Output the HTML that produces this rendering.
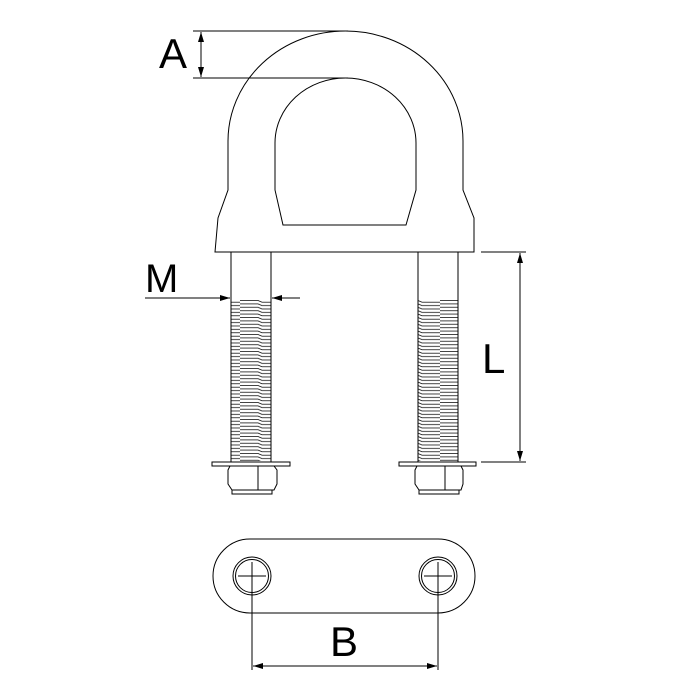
<!DOCTYPE html>
<html><head><style>body{margin:0;background:#fff}svg{display:block}</style></head>
<body>
<svg width="691" height="691" viewBox="0 0 691 691" xmlns="http://www.w3.org/2000/svg">
<defs>
<pattern id="th" width="40" height="3.4" patternUnits="userSpaceOnUse" y="300">
<path d="M0 0.5 H18 L22 2.2 H40" stroke="#000" stroke-width="0.8" fill="none"/>
</pattern>
<marker id="ar" markerWidth="10" markerHeight="6" refX="10" refY="3" orient="auto" markerUnits="userSpaceOnUse"><path d="M0 0 L10 3 L0 6Z" fill="#000"/></marker>
</defs>
<g fill="none" stroke="#000" stroke-width="1">
<path d="M215 252 L218 218 L228 190 L228 141 A117.5 110 0 0 1 463 141 L463 190 L474 218 L474 252 Z" fill="#fff"/>
<path d="M283 225 L275 190 L275 143 A70.5 65 0 0 1 416 143 L416 190 L406 225 Z"/>
<rect x="231" y="252" width="40" height="210" fill="#fff"/>
<rect x="418" y="252" width="40" height="210" fill="#fff"/>
<rect x="231" y="300" width="40" height="161" fill="url(#th)" stroke="none"/>
<rect x="418" y="300" width="40" height="161" fill="url(#th)" stroke="none"/>
<line x1="231" y1="300" x2="231" y2="462"/><line x1="271" y1="300" x2="271" y2="462"/>
<line x1="418" y1="300" x2="418" y2="462"/><line x1="458" y1="300" x2="458" y2="462"/>
<rect x="212" y="462" width="78" height="4" fill="#fff"/>
<rect x="399" y="462" width="77" height="4" fill="#fff"/>
<path d="M230 466 L228 470 L228 484 L232 490 L274 490 L277 484 L277 470 L274 466 Z M258 466 V490 M232 490 V494 H272 V490"/>
<path d="M417 466 L415 470 L415 484 L419 490 L461 490 L463 484 L463 470 L461 466 Z M445 466 V490 M419 490 V494 H459 V490"/>
<line x1="193" y1="31" x2="348" y2="31"/>
<line x1="193" y1="78" x2="348" y2="78"/>
<line x1="201" y1="42" x2="201" y2="32" marker-end="url(#ar)"/>
<line x1="201" y1="67" x2="201" y2="77" marker-end="url(#ar)"/>
<line x1="201" y1="42" x2="201" y2="67"/>
<line x1="145" y1="298" x2="230" y2="298" marker-end="url(#ar)"/>
<line x1="300" y1="298" x2="272" y2="298" marker-end="url(#ar)"/>
<line x1="481" y1="252" x2="526" y2="252"/>
<line x1="481" y1="462" x2="526" y2="462"/>
<line x1="520" y1="270" x2="520" y2="253" marker-end="url(#ar)"/>
<line x1="520" y1="444" x2="520" y2="461" marker-end="url(#ar)"/>
<line x1="520" y1="270" x2="520" y2="444"/>
<path d="M250 539 H438 A37 37 0 0 1 438 613 H250 A37 37 0 0 1 250 539 Z"/>
<circle cx="252" cy="576" r="19"/><circle cx="252" cy="576" r="16.5"/>
<circle cx="438" cy="576" r="19"/><circle cx="438" cy="576" r="16.5"/>
<line x1="238" y1="576" x2="266" y2="576"/><line x1="424" y1="576" x2="452" y2="576"/>
<line x1="252" y1="562" x2="252" y2="670"/><line x1="438" y1="562" x2="438" y2="670"/>
<line x1="270" y1="666" x2="253" y2="666" marker-end="url(#ar)"/>
<line x1="420" y1="666" x2="437" y2="666" marker-end="url(#ar)"/>
<line x1="270" y1="666" x2="420" y2="666"/>
</g>
<g font-family="Liberation Sans, sans-serif" font-size="42" fill="#000">
<text x="159" y="68">A</text>
<text x="145" y="292" font-size="40">M</text>
<text x="482" y="373">L</text>
<text x="330" y="656">B</text>
</g>
</svg>
</body></html>
